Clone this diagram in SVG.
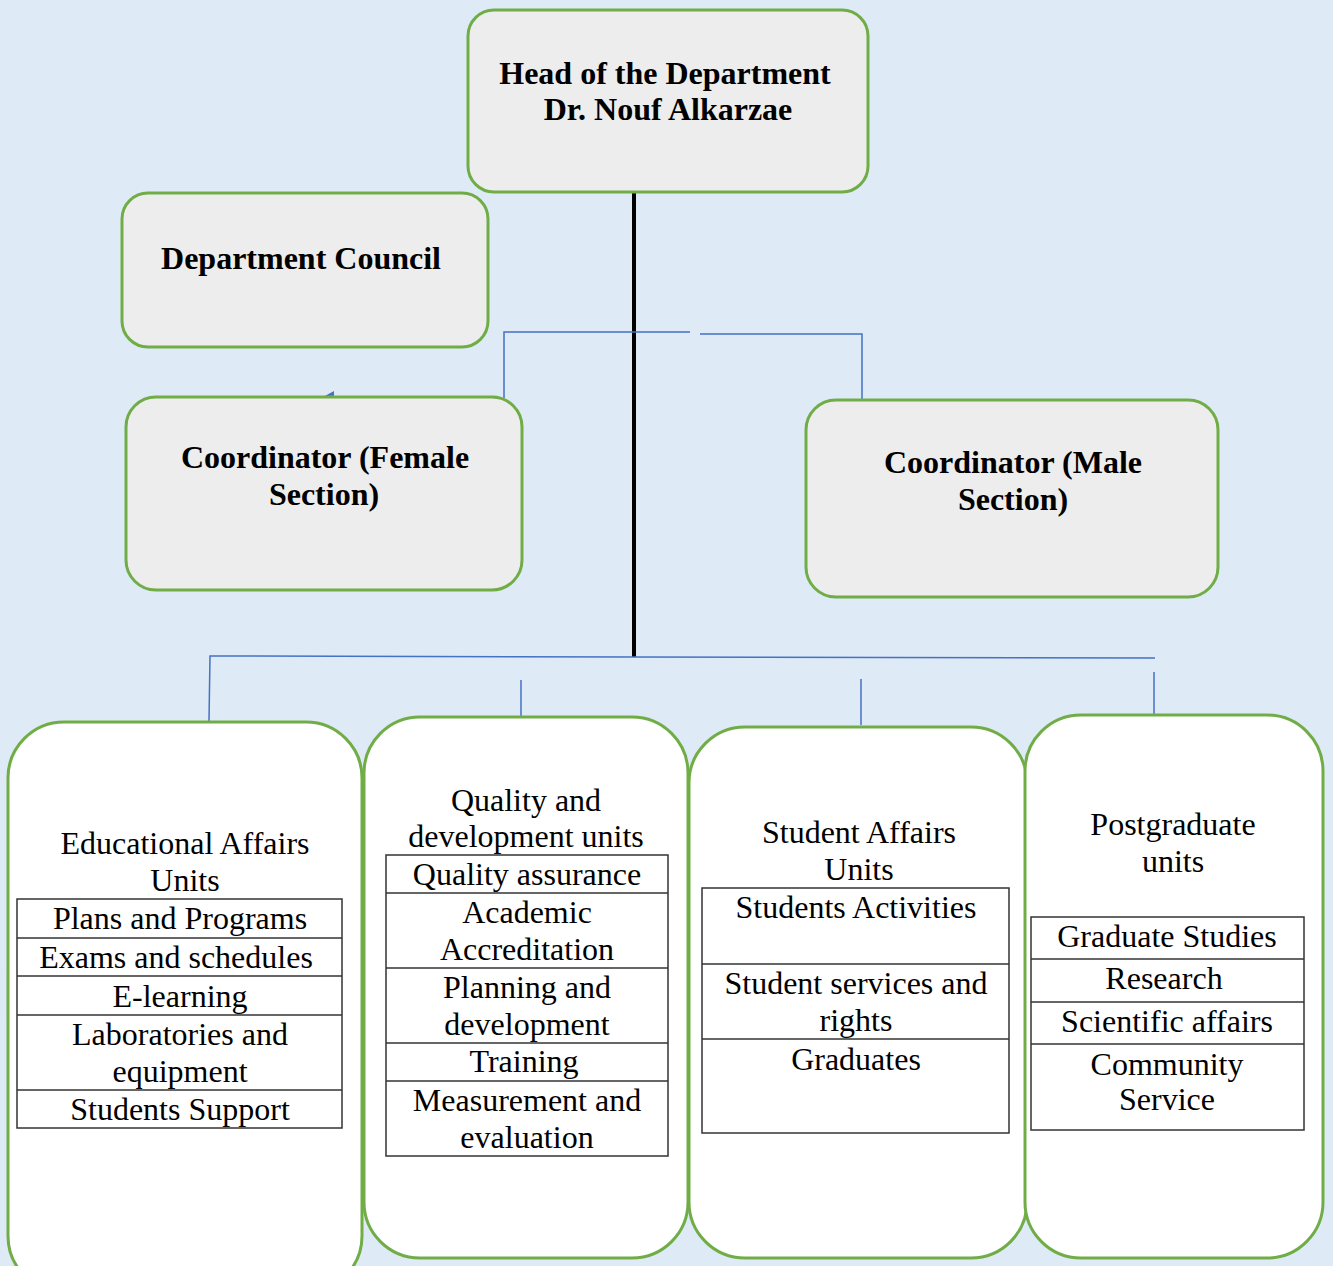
<svg xmlns="http://www.w3.org/2000/svg" width="1333" height="1266" viewBox="0 0 1333 1266">
<style>
.top{fill:#EDEDED;stroke:#70AD47;stroke-width:3}
.unit{fill:#FFFFFF;stroke:#70AD47;stroke-width:3}
.b{font-family:"Liberation Serif","Times New Roman",serif;font-weight:bold;font-size:32px;fill:#000;text-anchor:middle}
.r{font-family:"Liberation Serif","Times New Roman",serif;font-size:32px;fill:#000;text-anchor:middle}
.tbl{fill:#FFFFFF;stroke:#333;stroke-width:1.5}
.row{stroke:#333;stroke-width:1.5}
.con{stroke:#4472C4;stroke-width:1.5;fill:none}
</style>
<rect width="1333" height="1266" fill="#DEEAF6"/>
<g id="connectors">
<line x1="634" y1="193" x2="634" y2="657" stroke="#000" stroke-width="4"/>
<polyline class="con" points="504,398 504,332 690,332"/>
<polyline class="con" points="700,334 862,334 862,400"/>
<polygon points="323,397 334,391 334,397" fill="#4472C4"/>
<polyline class="con" points="209,721 210,656 1155,658"/>
<line class="con" x1="521" y1="680" x2="521" y2="737"/>
<line class="con" x1="861" y1="679" x2="861" y2="725"/>
<line class="con" x1="1154" y1="672" x2="1154" y2="721"/>
</g>
<g id="head">
<rect class="top" x="468" y="10" width="400" height="182" rx="26"/>
<text class="b" x="665" y="84">Head of the Department</text>
<text class="b" x="668" y="120">Dr. Nouf Alkarzae</text>
</g>
<g id="council">
<rect class="top" x="122" y="193" width="366" height="154" rx="26"/>
<text class="b" x="301" y="269">Department Council</text>
</g>
<g id="coord-female">
<rect class="top" x="126" y="397" width="396" height="193" rx="30"/>
<text class="b" x="325" y="468">Coordinator (Female</text>
<text class="b" x="324" y="505">Section)</text>
</g>
<g id="coord-male">
<rect class="top" x="806" y="400" width="412" height="197" rx="30"/>
<text class="b" x="1013" y="473">Coordinator (Male</text>
<text class="b" x="1013" y="510">Section)</text>
</g>
<g id="educational">
<rect class="unit" x="8" y="722" width="354" height="570" rx="56"/>
<text class="r" x="185" y="854">Educational Affairs</text>
<text class="r" x="185" y="891">Units</text>
<rect class="tbl" x="17" y="899" width="325" height="229"/>
<line class="row" x1="17" y1="938" x2="342" y2="938"/>
<line class="row" x1="17" y1="976" x2="342" y2="976"/>
<line class="row" x1="17" y1="1015" x2="342" y2="1015"/>
<line class="row" x1="17" y1="1090" x2="342" y2="1090"/>
<text class="r" x="180" y="929">Plans and Programs</text>
<text class="r" x="176" y="968">Exams and schedules</text>
<text class="r" x="180" y="1007">E-learning</text>
<text class="r" x="180" y="1045">Laboratories and</text>
<text class="r" x="180" y="1082">equipment</text>
<text class="r" x="180" y="1120">Students Support</text>
</g>
<g id="quality">
<rect class="unit" x="364" y="717" width="324" height="541" rx="56"/>
<text class="r" x="526" y="811">Quality and</text>
<text class="r" x="526" y="847">development units</text>
<rect class="tbl" x="386" y="855" width="282" height="301"/>
<line class="row" x1="386" y1="893" x2="668" y2="893"/>
<line class="row" x1="386" y1="968" x2="668" y2="968"/>
<line class="row" x1="386" y1="1043" x2="668" y2="1043"/>
<line class="row" x1="386" y1="1081" x2="668" y2="1081"/>
<text class="r" x="527" y="885">Quality assurance</text>
<text class="r" x="527" y="923">Academic</text>
<text class="r" x="527" y="960">Accreditation</text>
<text class="r" x="527" y="998">Planning and</text>
<text class="r" x="527" y="1035">development</text>
<text class="r" x="524" y="1072">Training</text>
<text class="r" x="527" y="1111">Measurement and</text>
<text class="r" x="527" y="1148">evaluation</text>
</g>
<g id="student-affairs">
<rect class="unit" x="689" y="727" width="338" height="531" rx="56"/>
<text class="r" x="859" y="843">Student Affairs</text>
<text class="r" x="859" y="880">Units</text>
<rect class="tbl" x="702" y="888" width="307" height="245"/>
<line class="row" x1="702" y1="964" x2="1009" y2="964"/>
<line class="row" x1="702" y1="1039" x2="1009" y2="1039"/>
<text class="r" x="856" y="918">Students Activities</text>
<text class="r" x="856" y="994">Student services and</text>
<text class="r" x="856" y="1031">rights</text>
<text class="r" x="856" y="1070">Graduates</text>
</g>
<g id="postgraduate">
<rect class="unit" x="1025" y="715" width="298" height="543" rx="56"/>
<text class="r" x="1173" y="835">Postgraduate</text>
<text class="r" x="1173" y="872">units</text>
<rect class="tbl" x="1031" y="917" width="273" height="213"/>
<line class="row" x1="1031" y1="959" x2="1304" y2="959"/>
<line class="row" x1="1031" y1="1002" x2="1304" y2="1002"/>
<line class="row" x1="1031" y1="1044" x2="1304" y2="1044"/>
<text class="r" x="1167" y="947">Graduate Studies</text>
<text class="r" x="1164" y="989">Research</text>
<text class="r" x="1167" y="1032">Scientific affairs</text>
<text class="r" x="1167" y="1075">Community</text>
<text class="r" x="1167" y="1110">Service</text>
</g>
</svg>
